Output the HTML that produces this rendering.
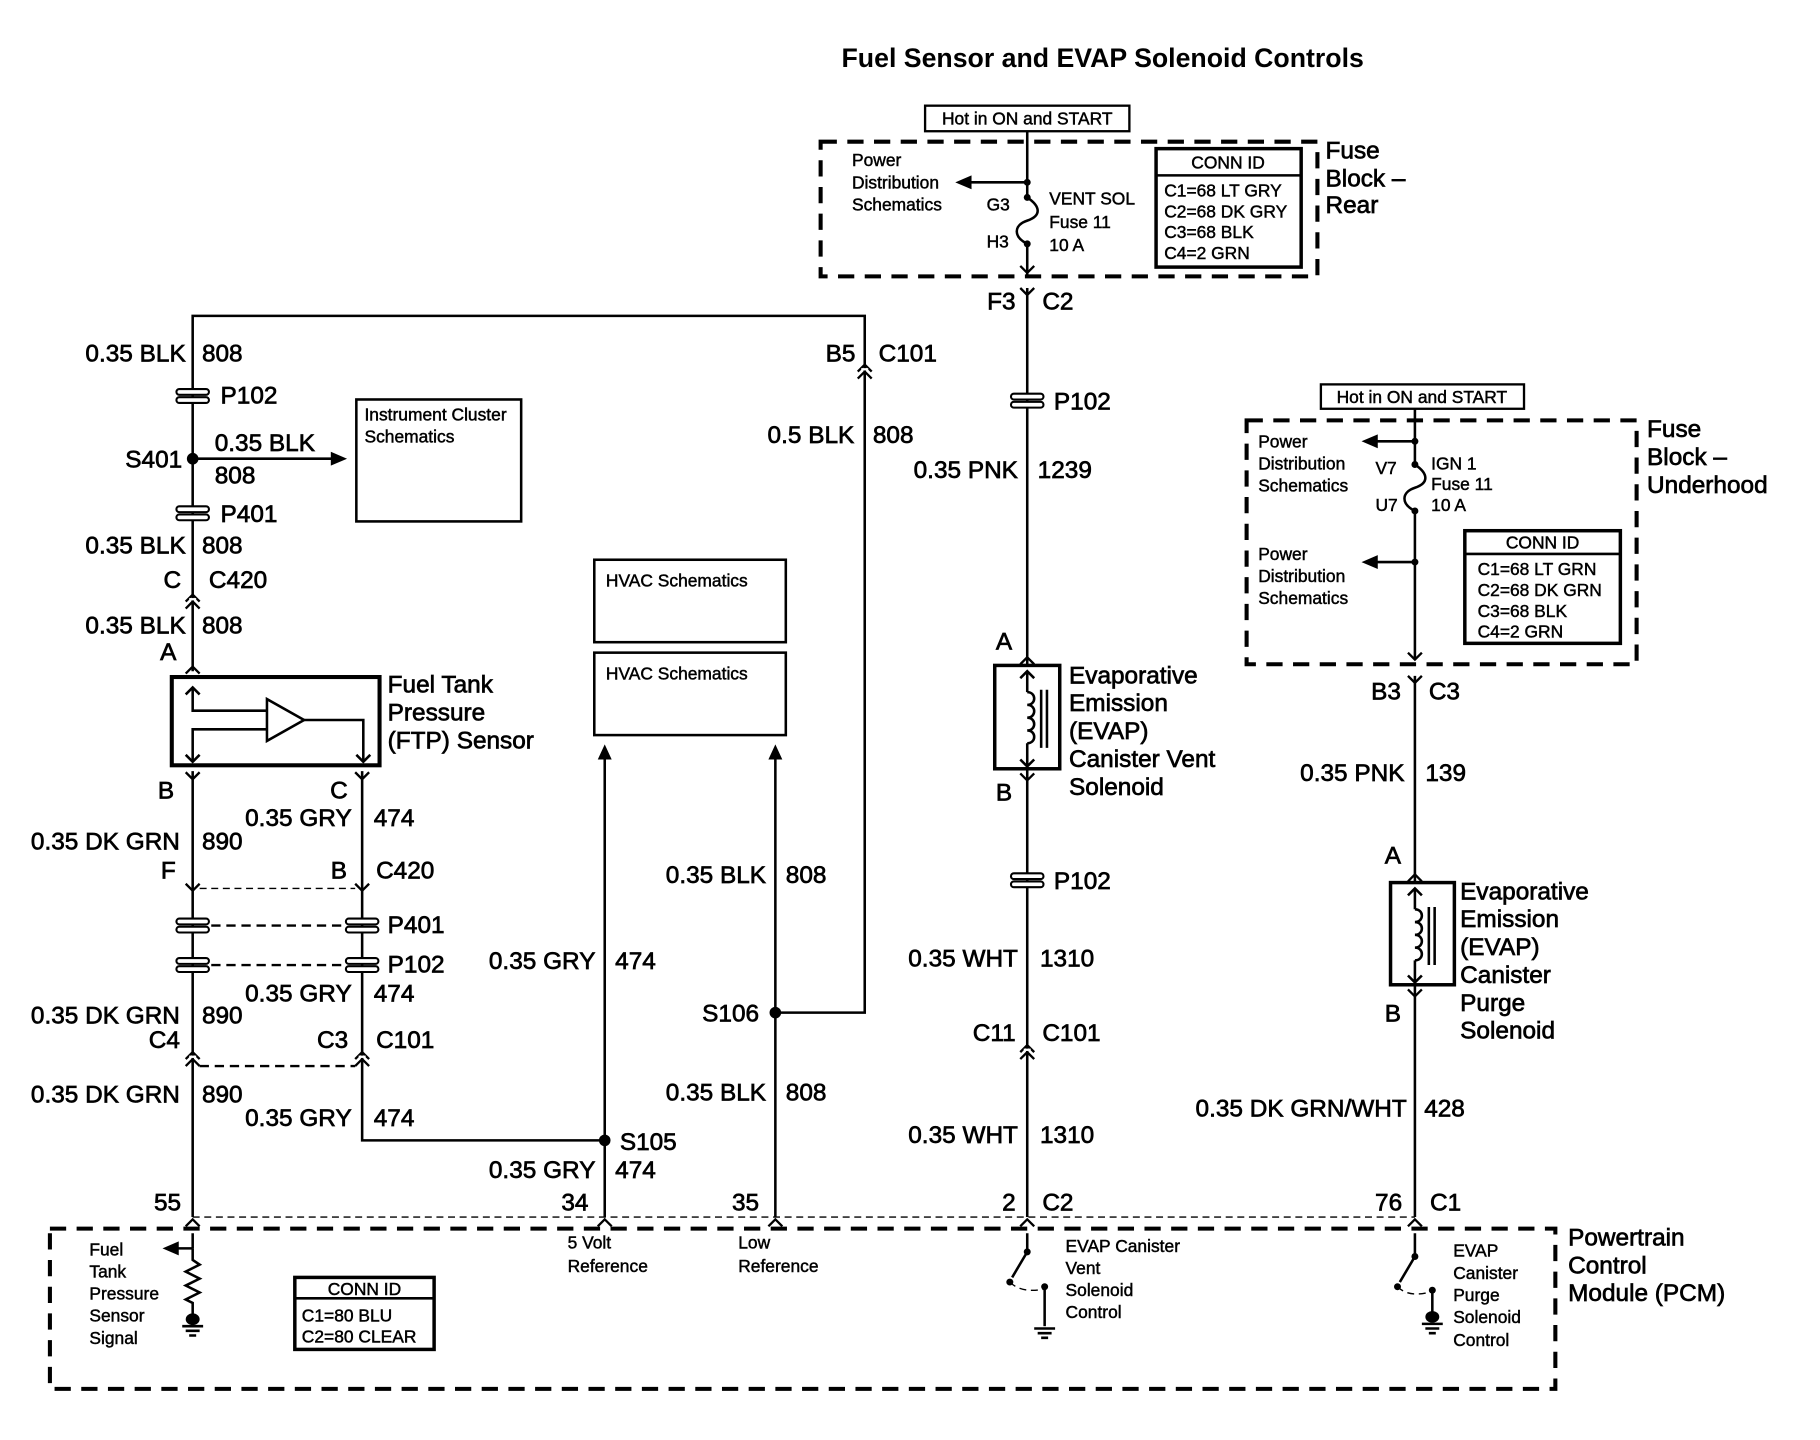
<!DOCTYPE html>
<html><head><meta charset="utf-8">
<style>
html,body{margin:0;padding:0;background:#fff;}
svg{display:block;}
text{font-family:"Liberation Sans",sans-serif;fill:#000;dominant-baseline:central;stroke:#000;stroke-width:0.6;}
.s{font-size:15px;stroke-width:0.4;}
.m{font-size:21px;}
.r{text-anchor:end;}
.w{stroke:#000;stroke-width:2.2;fill:none;}
.d{stroke:#000;stroke-width:3.5;fill:none;stroke-dasharray:14 9;}
.t{stroke:#000;stroke-width:1.2;fill:none;stroke-dasharray:6 4;}
.td{stroke:#000;stroke-width:2;fill:none;stroke-dasharray:8 5;}
</style></head><body>
<svg width="1820" height="1440" viewBox="0 0 1568 1240" preserveAspectRatio="none" xmlns="http://www.w3.org/2000/svg">
<defs>
<g id="pc"><rect x="-14" y="-6" width="28" height="5" rx="2.5" fill="#fff" stroke="#000" stroke-width="1.8"/><rect x="-14" y="1" width="28" height="5" rx="2.5" fill="#fff" stroke="#000" stroke-width="1.8"/></g>
<g id="cn"><path d="M-6,-2 L0,-8 L6,-2 M-6,4 L0,-2 L6,4" stroke="#000" stroke-width="2" fill="none"/><rect x="-3" y="-5" width="6" height="2" fill="#fff"/></g>
<g id="dn"><path d="M-6,-4 L0,2 L6,-4" stroke="#000" stroke-width="2" fill="none"/></g>
<g id="up"><path d="M-6,4 L0,-2 L6,4" stroke="#000" stroke-width="2" fill="none"/></g>
</defs>

<text x="950" y="50" style="font-size:23px;font-weight:bold;text-anchor:middle;stroke-width:0">Fuel Sensor and EVAP Solenoid Controls</text>

<!-- Fuse block rear -->
<rect x="797" y="91" width="176" height="22" fill="none" stroke="#000" stroke-width="2"/>
<text x="885" y="102" class="s" text-anchor="middle">Hot in ON and START</text>
<rect x="707" y="122" width="428" height="116" class="d"/>
<text x="734" y="138" class="s">Power</text><text x="734" y="157" class="s">Distribution</text><text x="734" y="176" class="s">Schematics</text>
<path d="M885,113 V170 M885,210 V238" class="w"/>
<path d="M885,170 C897,178 897,186 885,190 C873,194 873,204 885,210" class="w"/>
<path d="M885,157 H832" class="w"/><path d="M823,157 L837,151 L837,163 Z"/>
<circle cx="885" cy="157" r="3"/><circle cx="885" cy="170" r="3"/><circle cx="885" cy="210" r="3"/>
<use href="#dn" x="885" y="233"/>
<text x="850" y="176" class="s">G3</text><text x="850" y="208" class="s">H3</text>
<text x="904" y="171" class="s">VENT SOL</text><text x="904" y="191" class="s">Fuse 11</text><text x="904" y="211" class="s">10 A</text>
<rect x="996" y="128" width="125" height="102" fill="none" stroke="#000" stroke-width="3"/>
<path d="M996,151 H1121" class="w"/>
<text x="1058" y="140" class="s" text-anchor="middle">CONN ID</text>
<text x="1003" y="164" class="s">C1=68 LT GRY</text><text x="1003" y="182" class="s">C2=68 DK GRY</text><text x="1003" y="200" class="s">C3=68 BLK</text><text x="1003" y="218" class="s">C4=2 GRN</text>
<text x="1142" y="130" class="m">Fuse</text><text x="1142" y="154" class="m">Block –</text><text x="1142" y="177" class="m">Rear</text>

<!-- center wire -->
<path d="M885,248 V1048" class="w"/>
<use href="#dn" x="885" y="252"/>
<text x="875" y="260" class="m r">F3</text><text x="898" y="260" class="m">C2</text>
<use href="#pc" x="885" y="345"/><text x="908" y="346" class="m">P102</text>
<text x="877" y="405" class="m r">0.35 PNK</text><text x="894" y="405" class="m">1239</text>
<text x="858" y="553" class="m">A</text>
<rect x="857" y="573" width="56" height="89" fill="#fff" stroke="#000" stroke-width="3"/>
<path d="M885,578 V596 M885,640 V660" class="w"/>
<path d="M879,584 L885,578 L891,584 M879,654 L885,660 L891,654" class="w"/>
<path d="M885,596 c8,0 8,11 0,11 c8,0 8,11 0,11 c8,0 8,11 0,11 c8,0 8,11 0,11" class="w"/>
<path d="M897,594 V644 M902,594 V644" class="w"/>
<use href="#up" x="885" y="568"/><use href="#dn" x="885" y="670"/>
<text x="921" y="582" class="m">Evaporative</text><text x="921" y="606" class="m">Emission</text><text x="921" y="630" class="m">(EVAP)</text><text x="921" y="654" class="m">Canister Vent</text><text x="921" y="678" class="m">Solenoid</text>
<text x="858" y="683" class="m">B</text>
<use href="#pc" x="885" y="758"/><text x="908" y="759" class="m">P102</text>
<text x="877" y="826" class="m r">0.35 WHT</text><text x="896" y="826" class="m">1310</text>
<text x="875" y="890" class="m r">C11</text><text x="898" y="890" class="m">C101</text>
<use href="#cn" x="885" y="908"/>
<text x="877" y="978" class="m r">0.35 WHT</text><text x="896" y="978" class="m">1310</text>
<text x="875" y="1036" class="m r">2</text><text x="898" y="1036" class="m">C2</text>

<!-- left top loop -->
<path d="M166,578 V272 H745 V872 H668" class="w"/>
<text x="160" y="305" class="m r">0.35 BLK</text><text x="174" y="305" class="m">808</text>
<use href="#pc" x="166" y="341"/><text x="190" y="341" class="m">P102</text>
<circle cx="166" cy="395" r="5"/><text x="157" y="396" class="m r">S401</text>
<path d="M166,395 H288" class="w"/><path d="M299,395 L285,389 L285,401 Z"/>
<text x="185" y="382" class="m">0.35 BLK</text><text x="185" y="410" class="m">808</text>
<rect x="307" y="344" width="142" height="105" fill="none" stroke="#000" stroke-width="2.2"/>
<text x="314" y="357" class="s">Instrument Cluster</text><text x="314" y="376" class="s">Schematics</text>
<use href="#pc" x="166" y="442"/><text x="190" y="443" class="m">P401</text>
<text x="160" y="470" class="m r">0.35 BLK</text><text x="174" y="470" class="m">808</text>
<text x="156" y="500" class="m r">C</text><text x="180" y="500" class="m">C420</text>
<use href="#cn" x="166" y="520"/>
<text x="160" y="539" class="m r">0.35 BLK</text><text x="174" y="539" class="m">808</text>
<text x="145" y="562" class="m" style="text-anchor:middle">A</text>
<use href="#up" x="166" y="576"/>
<text x="737" y="305" class="m r">B5</text><text x="757" y="305" class="m">C101</text>
<use href="#cn" x="745" y="322"/>
<text x="736" y="375" class="m r">0.5 BLK</text><text x="752" y="375" class="m">808</text>

<!-- FTP sensor -->
<rect x="148" y="583" width="179" height="76" fill="#fff" stroke="#000" stroke-width="3.5"/>
<path d="M166,592 V612 H230 M230,628 H166 V656 M262,620 H313 V656" class="w"/>
<path d="M230,602 V638 L262,620 Z" fill="#fff" stroke="#000" stroke-width="2.2"/>
<path d="M160,598 L166,592 L172,598 M160,650 L166,656 L172,650 M307,650 L313,656 L319,650" class="w"/>
<text x="334" y="590" class="m">Fuel Tank</text><text x="334" y="614" class="m">Pressure</text><text x="334" y="638" class="m">(FTP) Sensor</text>
<text x="143" y="681" class="m" text-anchor="middle">B</text><text x="292" y="681" class="m" text-anchor="middle">C</text>

<!-- two wires below FTP -->
<path d="M166,664 V1048 M312,664 V982 H521" class="w"/>
<use href="#dn" x="166" y="669"/><use href="#dn" x="312" y="669"/>
<text x="303" y="705" class="m r">0.35 GRY</text><text x="322" y="705" class="m">474</text>
<text x="155" y="725" class="m r">0.35 DK GRN</text><text x="174" y="725" class="m">890</text>
<text x="145" y="750" class="m" text-anchor="middle">F</text><text x="292" y="750" class="m" text-anchor="middle">B</text><text x="324" y="750" class="m">C420</text>
<use href="#dn" x="166" y="765"/><use href="#dn" x="312" y="765"/>
<path d="M172,765 H306" class="t"/>
<use href="#pc" x="166" y="797"/><use href="#pc" x="312" y="797"/><path d="M182,797 H296" class="td"/>
<text x="334" y="797" class="m">P401</text>
<use href="#pc" x="166" y="831"/><use href="#pc" x="312" y="831"/><path d="M182,831 H296" class="td"/>
<text x="334" y="831" class="m">P102</text>
<text x="303" y="856" class="m r">0.35 GRY</text><text x="322" y="856" class="m">474</text>
<text x="155" y="875" class="m r">0.35 DK GRN</text><text x="174" y="875" class="m">890</text>
<text x="155" y="896" class="m r">C4</text><text x="300" y="896" class="m r">C3</text><text x="324" y="896" class="m">C101</text>
<use href="#cn" x="166" y="914"/><use href="#cn" x="312" y="914"/>
<path d="M172,918 H306" class="td"/>
<text x="155" y="943" class="m r">0.35 DK GRN</text><text x="174" y="943" class="m">890</text>
<text x="303" y="963" class="m r">0.35 GRY</text><text x="322" y="963" class="m">474</text>
<text x="156" y="1036" class="m r">55</text>

<!-- HVAC -->
<rect x="512" y="482" width="165" height="71" fill="none" stroke="#000" stroke-width="2.2"/>
<text x="522" y="500" class="s">HVAC Schematics</text>
<rect x="512" y="562" width="165" height="71" fill="none" stroke="#000" stroke-width="2.2"/>
<text x="522" y="580" class="s">HVAC Schematics</text>
<path d="M521,652 V1048 M668,652 V1048" class="w"/>
<path d="M521,641 L515,654 L527,654 Z M668,641 L662,654 L674,654 Z"/>
<circle cx="521" cy="982" r="5"/><circle cx="668" cy="872" r="5"/>
<text x="534" y="984" class="m">S105</text><text x="654" y="873" class="m r">S106</text>
<text x="513" y="828" class="m r">0.35 GRY</text><text x="530" y="828" class="m">474</text>
<text x="513" y="1008" class="m r">0.35 GRY</text><text x="530" y="1008" class="m">474</text>
<text x="660" y="754" class="m r">0.35 BLK</text><text x="677" y="754" class="m">808</text>
<text x="660" y="941" class="m r">0.35 BLK</text><text x="677" y="941" class="m">808</text>
<text x="507" y="1036" class="m r">34</text><text x="654" y="1036" class="m r">35</text>

<!-- Fuse block underhood -->
<rect x="1138" y="331" width="175" height="21" fill="none" stroke="#000" stroke-width="2"/>
<text x="1225" y="342" class="s" text-anchor="middle">Hot in ON and START</text>
<rect x="1074" y="362" width="336" height="210" class="d"/>
<path d="M1219,352 V400 M1219,440 V568 M1219,582 V1048" class="w"/>
<path d="M1219,400 C1231,408 1231,416 1219,420 C1207,424 1207,434 1219,440" class="w"/>
<circle cx="1219" cy="380" r="3"/><circle cx="1219" cy="400" r="3"/><circle cx="1219" cy="440" r="3"/><circle cx="1219" cy="484" r="3"/>
<path d="M1219,380 H1183 M1219,484 H1183" class="w"/>
<path d="M1173,380 L1187,374 L1187,386 Z M1173,484 L1187,478 L1187,490 Z"/>
<use href="#dn" x="1219" y="566"/><use href="#dn" x="1219" y="586"/>
<text x="1084" y="380" class="s">Power</text><text x="1084" y="399" class="s">Distribution</text><text x="1084" y="418" class="s">Schematics</text>
<text x="1084" y="477" class="s">Power</text><text x="1084" y="496" class="s">Distribution</text><text x="1084" y="515" class="s">Schematics</text>
<text x="1185" y="403" class="s">V7</text><text x="1185" y="435" class="s">U7</text>
<text x="1233" y="399" class="s">IGN 1</text><text x="1233" y="417" class="s">Fuse 11</text><text x="1233" y="435" class="s">10 A</text>
<rect x="1262" y="457" width="134" height="97" fill="none" stroke="#000" stroke-width="3"/>
<path d="M1262,477 H1396" class="w"/>
<text x="1329" y="467" class="s" text-anchor="middle">CONN ID</text>
<text x="1273" y="490" class="s">C1=68 LT GRN</text><text x="1273" y="508" class="s">C2=68 DK GRN</text><text x="1273" y="526" class="s">C3=68 BLK</text><text x="1273" y="544" class="s">C4=2 GRN</text>
<text x="1419" y="370" class="m">Fuse</text><text x="1419" y="394" class="m">Block –</text><text x="1419" y="418" class="m">Underhood</text>
<text x="1207" y="596" class="m r">B3</text><text x="1231" y="596" class="m">C3</text>
<text x="1210" y="666" class="m r">0.35 PNK</text><text x="1228" y="666" class="m">139</text>
<text x="1200" y="737" class="m" text-anchor="middle">A</text>
<rect x="1198" y="760" width="55" height="88" fill="#fff" stroke="#000" stroke-width="3"/>
<path d="M1219,765 V783 M1219,827 V846" class="w"/>
<path d="M1213,771 L1219,765 L1225,771 M1213,840 L1219,846 L1225,840" class="w"/>
<path d="M1219,783 c8,0 8,11 0,11 c8,0 8,11 0,11 c8,0 8,11 0,11 c8,0 8,11 0,11" class="w"/>
<path d="M1231,781 V831 M1236,781 V831" class="w"/>
<use href="#up" x="1219" y="755"/><use href="#dn" x="1219" y="856"/>
<text x="1258" y="768" class="m">Evaporative</text><text x="1258" y="792" class="m">Emission</text><text x="1258" y="816" class="m">(EVAP)</text><text x="1258" y="840" class="m">Canister</text><text x="1258" y="864" class="m">Purge</text><text x="1258" y="888" class="m">Solenoid</text>
<text x="1200" y="873" class="m" text-anchor="middle">B</text>
<text x="1212" y="955" class="m r">0.35 DK GRN/WHT</text><text x="1227" y="955" class="m">428</text>
<text x="1208" y="1036" class="m r">76</text><text x="1232" y="1036" class="m">C1</text>

<!-- PCM -->
<path d="M166,1048 H1219" class="t"/>
<use href="#up" x="166" y="1052"/><use href="#up" x="521" y="1052"/><use href="#up" x="668" y="1052"/><use href="#up" x="885" y="1052"/><use href="#up" x="1219" y="1052"/>
<rect x="43" y="1058" width="1297" height="138" class="d"/>
<text x="1351" y="1066" class="m">Powertrain</text><text x="1351" y="1090" class="m">Control</text><text x="1351" y="1114" class="m">Module (PCM)</text>
<path d="M166,1062 V1075 M166,1075 H152" class="w"/><path d="M140,1075 L154,1069 L154,1081 Z"/>
<path d="M166,1075 V1085 l6,4 l-12,6 l12,6 l-12,6 l12,6 l-12,6 l6,3 V1132" class="w"/>
<ellipse cx="166" cy="1136" rx="6" ry="5"/><path d="M157,1142 H175 M160,1146 H172 M163,1150 H169" class="w" stroke-width="1.6"/>
<text x="77" y="1076" class="s">Fuel</text><text x="77" y="1095" class="s">Tank</text><text x="77" y="1114" class="s">Pressure</text><text x="77" y="1133" class="s">Sensor</text><text x="77" y="1152" class="s">Signal</text>
<rect x="254" y="1100" width="120" height="62" fill="none" stroke="#000" stroke-width="3"/>
<path d="M254,1118 H374" class="w"/>
<text x="314" y="1110" class="s" text-anchor="middle">CONN ID</text>
<text x="260" y="1133" class="s">C1=80 BLU</text><text x="260" y="1151" class="s">C2=80 CLEAR</text>
<text x="489" y="1070" class="s">5 Volt</text><text x="489" y="1090" class="s">Reference</text>
<text x="636" y="1070" class="s">Low</text><text x="636" y="1090" class="s">Reference</text>
<path d="M885,1062 V1078 L872,1100" class="w"/><circle cx="885" cy="1078" r="3"/><circle cx="870" cy="1104" r="3"/>
<path d="M870,1104 Q880,1114 900,1110" class="t"/><path d="M900,1108 V1142" class="w"/><circle cx="900" cy="1108" r="3"/>
<path d="M891,1144 H909 M894,1148 H906 M897,1152 H903" class="w" stroke-width="1.6"/>
<text x="918" y="1073" class="s">EVAP Canister</text><text x="918" y="1092" class="s">Vent</text><text x="918" y="1111" class="s">Solenoid</text><text x="918" y="1130" class="s">Control</text>
<path d="M1219,1062 V1082 L1206,1104" class="w"/><circle cx="1219" cy="1082" r="3"/><circle cx="1204" cy="1108" r="3"/>
<path d="M1204,1108 Q1214,1118 1234,1112" class="t"/><path d="M1234,1111 V1130" class="w"/><circle cx="1234" cy="1111" r="3"/>
<ellipse cx="1234" cy="1134" rx="6" ry="5"/><path d="M1225,1140 H1243 M1228,1144 H1240 M1231,1148 H1237" class="w" stroke-width="1.6"/>
<text x="1252" y="1077" class="s">EVAP</text><text x="1252" y="1096" class="s">Canister</text><text x="1252" y="1115" class="s">Purge</text><text x="1252" y="1134" class="s">Solenoid</text><text x="1252" y="1154" class="s">Control</text>
</svg>
</body></html>
